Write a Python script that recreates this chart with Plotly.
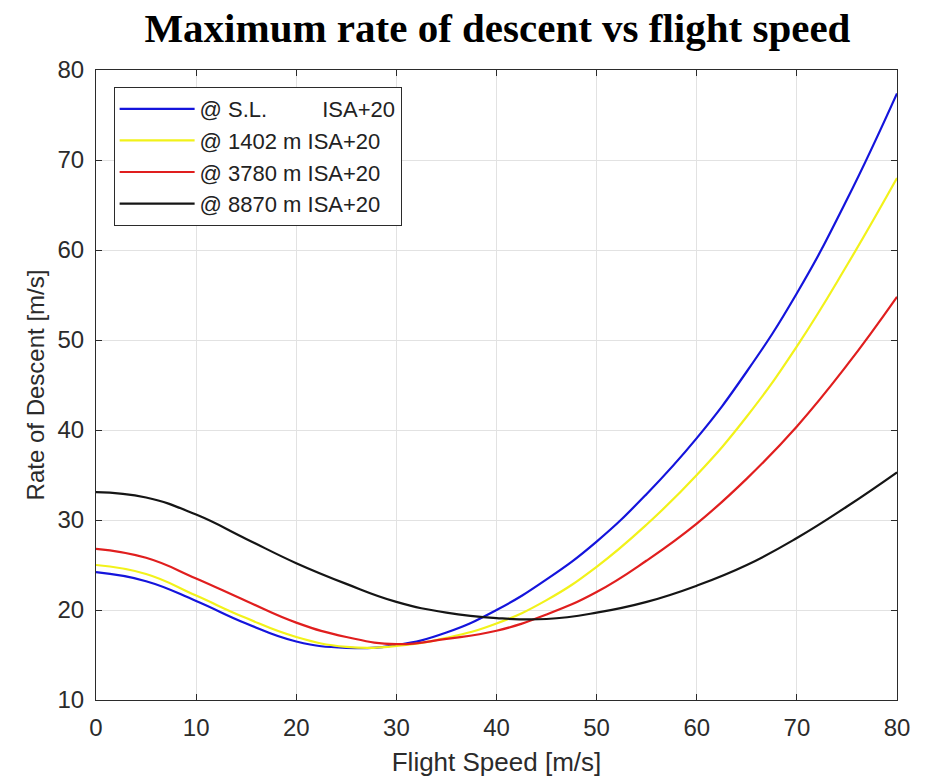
import plotly.graph_objects as go

speed = [0, 5, 10, 15, 20, 25, 30, 35, 40, 45, 50, 55, 60, 65, 70, 75, 80]
rod_sl = [24.2, 23.2, 21.0, 18.5, 16.5, 15.8, 16.1, 17.5, 20.0, 23.4, 27.6, 32.9, 39.1, 46.5, 55.2, 65.6, 77.4]
rod_1402 = [25.0, 24.0, 21.6, 19.1, 17.0, 15.9, 16.0, 16.9, 18.5, 21.1, 24.8, 29.5, 35.0, 41.5, 49.3, 58.3, 68.0]
rod_3780 = [26.8, 25.8, 23.5, 21.0, 18.6, 17.0, 16.2, 16.8, 17.7, 19.5, 22.0, 25.5, 29.6, 34.6, 40.4, 47.2, 54.8]
rod_8870 = [33.1, 32.5, 30.6, 27.9, 25.2, 22.9, 20.9, 19.7, 19.1, 19.0, 19.7, 20.9, 22.7, 25.0, 28.0, 31.5, 35.3]

nb = "\u00a0"
names = [
    "@ S.L." + nb * 9 + "ISA+20",
    "@ 1402 m ISA+20",
    "@ 3780 m ISA+20",
    "@ 8870 m ISA+20",
]
series = [rod_sl, rod_1402, rod_3780, rod_8870]
colors = ["#1414dc", "#f2f21a", "#e01e1e", "#151515"]

fig = go.Figure()
for nm, ys, c in zip(names, series, colors):
    fig.add_trace(go.Scatter(x=speed, y=ys, mode="lines", name=nm,
                             line=dict(color=c, width=2.2, shape="spline", smoothing=1.3)))

sans = "Liberation Sans, Arial, sans-serif"
axis_common = dict(
    showline=True, linecolor="#2b2b2b", linewidth=1, mirror="ticks",
    ticks="inside", ticklen=6, tickcolor="#2b2b2b",
    showgrid=True, gridcolor="#e2e2e2", gridwidth=1, zeroline=False,
    automargin=False, ticklabelstandoff=6,
    tickfont=dict(family=sans, size=24, color="#2b2b2b"),
)

fig.update_layout(
    width=928, height=777,
    paper_bgcolor="white", plot_bgcolor="white",
    margin=dict(l=96, r=31, t=70, b=77),
    title=dict(text="<b>Maximum rate of descent vs flight speed</b>",
               font=dict(family="Liberation Serif, Times New Roman, serif", size=41, color="black"),
               x=0.536, xanchor="center", y=0.965, yanchor="middle"),
    xaxis=dict(range=[0, 80], dtick=10, title=dict(text="Flight Speed [m/s]", standoff=20,
               font=dict(family=sans, size=26, color="#2b2b2b")),
               **axis_common),
    yaxis=dict(range=[10, 80], dtick=10, title=dict(text="Rate of Descent [m/s]", standoff=6,
               font=dict(family=sans, size=24, color="#2b2b2b")),
               **axis_common),
    legend=dict(x=0.022, y=0.973, xanchor="left", yanchor="top",
                bgcolor="white", bordercolor="#2b2b2b", borderwidth=1,
                font=dict(family=sans, size=22, color="#222222"),
                tracegroupgap=0, itemwidth=75),
    showlegend=True,
)

fig.write_html("out.html")
